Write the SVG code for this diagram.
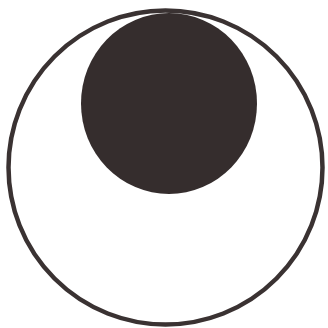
<svg xmlns="http://www.w3.org/2000/svg" width="328" height="328" viewBox="0 0 328 328">
<style>
.ring{fill:none;stroke:#3a3232;stroke-width:4.5}
.disc{fill:#352d2d}
</style>
<rect width="328" height="328" fill="#ffffff"/>
<g id="outer"><circle class="ring" cx="165.5" cy="167.5" r="157"/></g>
<g id="inner"><ellipse class="disc" cx="169" cy="103.5" rx="88" ry="90.5"/></g>
</svg>
